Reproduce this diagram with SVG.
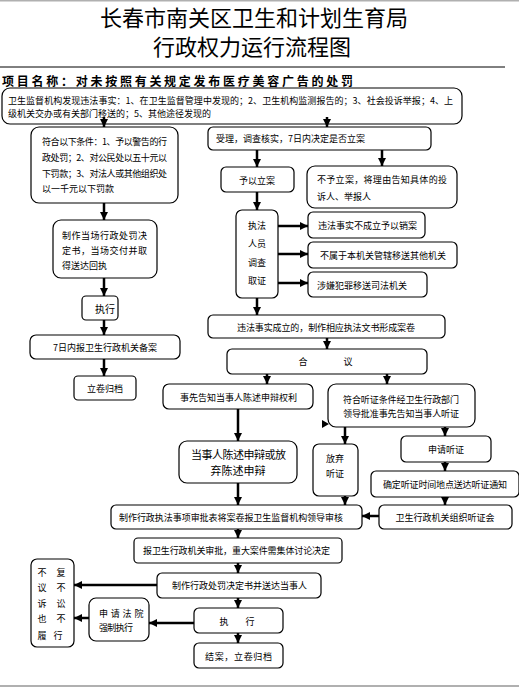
<svg xmlns="http://www.w3.org/2000/svg" width="519" height="687" viewBox="0 0 519 687">
<style>
.b{fill:#fff;stroke:#000;stroke-width:1.2}
text{font-family:"Noto Sans CJK SC","Noto Sans",sans-serif;fill:#000;dominant-baseline:central}
.t{font-size:9px}
.m{text-anchor:middle}
.c line{stroke:#000;stroke-width:2.5;marker-end:url(#ah)}
</style>
<defs>
<marker id="ah" markerUnits="userSpaceOnUse" markerWidth="9" markerHeight="9" refX="8" refY="4" orient="auto" viewBox="0 0 9 8">
<path d="M0,0 L8,4 L0,8 z" fill="#000"/>
</marker>
</defs>
<rect x="0" y="0" width="519" height="1.5" fill="#b0b0b0"/>
<rect x="0" y="685" width="519" height="2" fill="#b0b0b0"/>
<g id="title">
<text x="254" y="16" class="m" font-size="22">长春市南关区卫生和计划生育局</text>
<text x="252" y="45" class="m" font-size="22">行政权力运行流程图</text>
<line x1="0" y1="67" x2="505" y2="67" stroke="#000" stroke-width="1"/>
<text x="2" y="80" font-size="12" font-weight="bold" textLength="351" lengthAdjust="spacing">项目名称：对未按照有关规定发布医疗美容广告的处罚</text>
</g>
<g id="n-start">
<rect class="b" x="2" y="88" width="460" height="36" rx="8"/>
<text class="t" x="8" y="100" textLength="445" lengthAdjust="spacing">卫生监督机构发现违法事实：1、在卫生监督管理中发现的；2、卫生机构监测报告的；3、社会投诉举报；4、上</text>
<text class="t" x="8" y="113">级机关交办或有关部门移送的；5、其他途径发现的</text>
</g>
<g id="n-simple">
<rect class="b" x="31" y="127" width="147" height="76" rx="8"/>
<text class="t" x="42" y="141" textLength="125" lengthAdjust="spacing">符合以下条件：1、予以警告的行</text>
<text class="t" x="42" y="157" textLength="125" lengthAdjust="spacing">政处罚；2、对公民处以五十元以</text>
<text class="t" x="42" y="173" textLength="125" lengthAdjust="spacing">下罚款；3、对法人或其他组织处</text>
<text class="t" x="42" y="188">以一千元以下罚款</text>
</g>
<g id="n-spot">
<rect class="b" x="53" y="220" width="104" height="58" rx="8"/>
<text class="t" x="62" y="235" textLength="85" lengthAdjust="spacing">制作当场行政处罚决</text>
<text class="t" x="62" y="250" textLength="85" lengthAdjust="spacing">定书，当场交付并取</text>
<text class="t" x="62" y="265">得送达回执</text>
</g>
<g id="n-exec1">
<rect class="b" x="82" y="296" width="36" height="24" rx="4"/>
<text x="105" y="308" class="m" font-size="10">执行</text>
</g>
<g id="n-file7">
<rect class="b" x="30" y="335" width="150" height="24" rx="6"/>
<text class="t m" x="105" y="347">7日内报卫生行政机关备案</text>
</g>
<g id="n-archive1">
<rect class="b" x="74" y="376" width="62" height="24" rx="4"/>
<text class="t m" x="105" y="388">立卷归档</text>
</g>
<g id="n-accept">
<rect class="b" x="208" y="127" width="223" height="23" rx="5"/>
<text class="t" x="216" y="138">受理，调查核实，7日内决定是否立案</text>
</g>
<g id="n-file">
<rect class="b" x="221" y="167" width="73" height="25" rx="5"/>
<text class="t m" x="257" y="180">予以立案</text>
</g>
<g id="n-nofile">
<rect class="b" x="307" y="166" width="150" height="42" rx="8"/>
<text class="t" x="317" y="179" textLength="130" lengthAdjust="spacing">不予立案，将理由告知具体的投</text>
<text class="t" x="317" y="196">诉人、举报人</text>
</g>
<g id="n-investigate">
<rect class="b" x="236" y="210" width="42" height="88" rx="6"/>
<text class="t m" x="257" y="225">执法</text>
<text class="t m" x="257" y="243">人员</text>
<text class="t m" x="257" y="262">调查</text>
<text class="t m" x="257" y="280">取证</text>
</g>
<g id="n-cancel">
<rect class="b" x="308" y="212" width="117" height="26" rx="5"/>
<text class="t" x="318" y="225">违法事实不成立予以销案</text>
</g>
<g id="n-transfer">
<rect class="b" x="308" y="242" width="149" height="26" rx="5"/>
<text class="t" x="320" y="255">不属于本机关管辖移送其他机关</text>
</g>
<g id="n-crime">
<rect class="b" x="308" y="272" width="119" height="25" rx="5"/>
<text class="t" x="317" y="285">涉嫌犯罪移送司法机关</text>
</g>
<g id="n-established">
<rect class="b" x="208" y="315" width="237" height="23" rx="5"/>
<text class="t" x="237" y="327" textLength="178" lengthAdjust="spacing">违法事实成立的，制作相应执法文书形成案卷</text>
</g>
<g id="n-discuss">
<rect class="b" x="227" y="349" width="200" height="25" rx="5"/>
<text class="t m" x="303" y="361">合</text>
<text class="t m" x="348" y="361">议</text>
</g>
<g id="n-notify">
<rect class="b" x="163" y="384" width="150" height="25" rx="6"/>
<text class="t" x="180" y="397" textLength="117" lengthAdjust="spacing">事先告知当事人陈述申辩权利</text>
</g>
<g id="n-hearing-cond">
<rect class="b" x="328" y="384" width="147" height="43" rx="8"/>
<text class="t" x="343" y="399" textLength="116" lengthAdjust="spacing">符合听证条件经卫生行政部门</text>
<text class="t" x="343" y="413" textLength="116" lengthAdjust="spacing">领导批准事先告知当事人听证</text>
</g>
<g id="n-defend">
<rect class="b" x="179" y="441" width="118" height="42" rx="8"/>
<text x="191" y="454" font-size="11" textLength="95" lengthAdjust="spacing">当事人陈述申辩或放</text>
<text x="238" y="470" font-size="11" text-anchor="middle">弃陈述申辩</text>
</g>
<g id="n-waive">
<rect class="b" x="313" y="444" width="45" height="52" rx="6"/>
<text class="t m" x="335" y="458">放弃</text>
<text class="t m" x="335" y="473">听证</text>
</g>
<g id="n-apply">
<rect class="b" x="401" y="436" width="90" height="26" rx="5"/>
<text class="t m" x="446" y="449">申请听证</text>
</g>
<g id="n-schedule">
<rect class="b" x="371" y="471" width="148" height="26" rx="5"/>
<text class="t" x="383" y="484" textLength="124" lengthAdjust="spacing">确定听证时间地点送达听证通知</text>
</g>
<g id="n-approve-form">
<rect class="b" x="111" y="505" width="251" height="24" rx="5"/>
<text class="t" x="119" y="517" textLength="224" lengthAdjust="spacing">制作行政执法事项审批表将案卷报卫生监督机构领导审核</text>
</g>
<g id="n-hearing">
<rect class="b" x="379" y="505" width="133" height="24" rx="5"/>
<text class="t m" x="445" y="517">卫生行政机关组织听证会</text>
</g>
<g id="n-review">
<rect class="b" x="134" y="538" width="208" height="25" rx="4"/>
<text class="t" x="143" y="550" textLength="187" lengthAdjust="spacing">报卫生行政机关审批，重大案件需集体讨论决定</text>
</g>
<g id="n-decision">
<rect class="b" x="157" y="573" width="164" height="25" rx="5"/>
<text class="t" x="172" y="585" textLength="135" lengthAdjust="spacing">制作行政处罚决定书并送达当事人</text>
</g>
<g id="n-noappeal">
<rect class="b" x="31" y="559" width="43" height="88" rx="6"/>
<text class="t m" x="42" y="572">不</text><text class="t m" x="61" y="572">复</text>
<text class="t m" x="42" y="587">议</text><text class="t m" x="61" y="587">不</text>
<text class="t m" x="42" y="603">诉</text><text class="t m" x="61" y="603">讼</text>
<text class="t m" x="42" y="618">也</text><text class="t m" x="61" y="618">不</text>
<text class="t m" x="42" y="635">履</text><text class="t m" x="58" y="635">行</text>
</g>
<g id="n-court">
<rect class="b" x="89" y="598" width="60" height="43" rx="7"/>
<text class="t" x="99" y="613" letter-spacing="2.8">申请法院</text>
<text class="t" x="99" y="627" textLength="34" lengthAdjust="spacing">强制执行</text>
</g>
<g id="n-exec2">
<rect class="b" x="194" y="608" width="89" height="25" rx="5"/>
<text class="t m" x="224" y="621">执</text>
<text class="t m" x="250" y="621">行</text>
</g>
<g id="n-close">
<rect class="b" x="194" y="643" width="89" height="25" rx="5"/>
<text class="t" x="205" y="656" textLength="67" lengthAdjust="spacing">结案，立卷归档</text>
</g>
<g id="connectors" class="c">
<line x1="104" y1="117" x2="104" y2="127"/>
<line x1="327" y1="117" x2="327" y2="127"/>
<line x1="104" y1="203" x2="104" y2="220"/>
<line x1="104" y1="278" x2="104" y2="296"/>
<line x1="104" y1="320" x2="104" y2="335"/>
<line x1="104" y1="359" x2="104" y2="376"/>
<line x1="257" y1="150" x2="257" y2="167"/>
<line x1="382" y1="150" x2="382" y2="166"/>
<line x1="257" y1="192" x2="257" y2="210"/>
<line x1="278" y1="226" x2="308" y2="226"/>
<line x1="278" y1="254" x2="308" y2="254"/>
<line x1="278" y1="283" x2="308" y2="283"/>
<line x1="257" y1="298" x2="257" y2="315"/>
<line x1="327" y1="338" x2="327" y2="349"/>
<line x1="267" y1="374" x2="267" y2="384"/>
<line x1="387" y1="374" x2="387" y2="384"/>
<line x1="238" y1="409" x2="238" y2="441"/>
<line x1="345" y1="427" x2="345" y2="444"/>
<line x1="445" y1="427" x2="445" y2="436"/>
<line x1="445" y1="462" x2="445" y2="471"/>
<line x1="238" y1="483" x2="238" y2="505"/>
<line x1="345" y1="496" x2="345" y2="505"/>
<line x1="445" y1="497" x2="445" y2="505"/>
<line x1="379" y1="516" x2="362" y2="516"/>
<line x1="238" y1="529" x2="238" y2="538"/>
<line x1="238" y1="563" x2="238" y2="573"/>
<line x1="157" y1="585" x2="74" y2="585"/>
<line x1="238" y1="598" x2="238" y2="608"/>
<line x1="194" y1="623" x2="149" y2="623"/>
<line x1="89" y1="618" x2="74" y2="618"/>
<line x1="238" y1="633" x2="238" y2="643"/>
<polygon points="322,420 329,424 322,428" fill="#000"/>
</g>
</svg>
